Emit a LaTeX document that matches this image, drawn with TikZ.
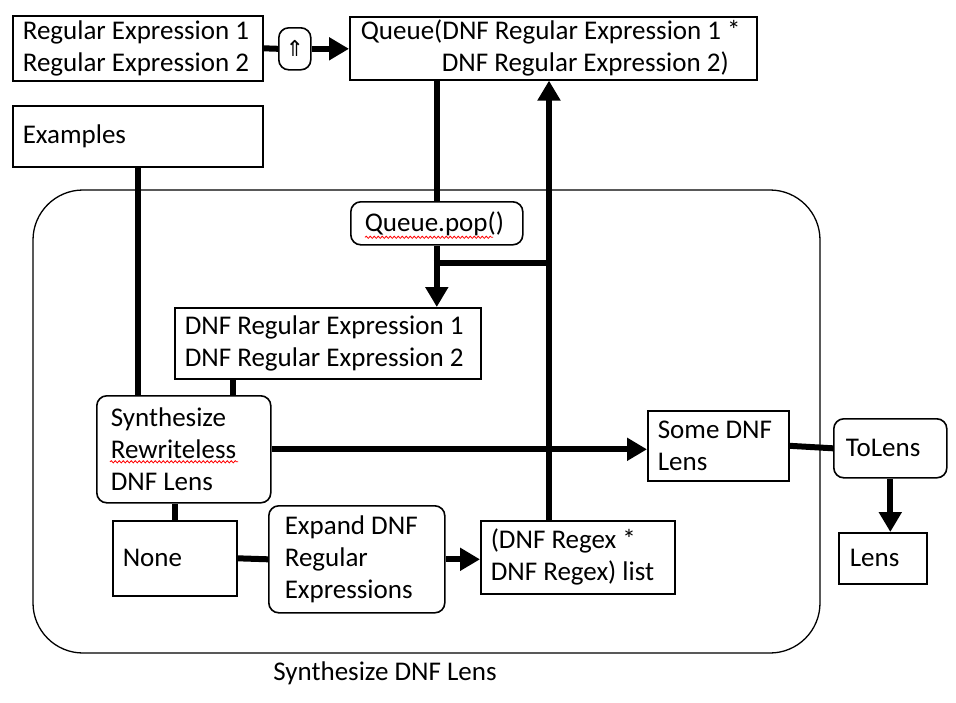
\documentclass[tikz,border=0pt]{standalone}
\usepackage{fontspec}
\setmainfont{Carlito}
\newfontfamily\arrowfont{DejaVu Sans}
\usepackage{tikz}
\usetikzlibrary{arrows.meta}
\usetikzlibrary{decorations.pathmorphing}

\begin{document}
\begin{tikzpicture}[x=1pt,y=-1pt,
  box/.style={draw,line width=1.6pt,anchor=north west,align=flush left,inner xsep=10pt,inner ysep=0pt,font=\fontsize{27}{32}\selectfont},
  rbox/.style={box,rounded corners=10pt},
  wire/.style={line width=6pt},
  flow/.style={wire,-{Triangle[length=20pt,width=22pt]}},
  typo/.style={red,line width=0.8pt,decorate,decoration={snake,amplitude=1.1pt,segment length=4pt}}]

  \useasboundingbox (0,0) rectangle (956,702);

  % outer frame
  \draw[line width=1.3pt,rounded corners=50pt] (33,190) rectangle (820,653);
  \node[font=\fontsize{27}{32}\selectfont] (frame) at (385,673) {Synthesize DNF Lens};

  \node[box,text width=230pt,minimum height=65pt] (regex) at (12,15) {Regular Expression 1\\Regular Expression 2};
  \node[rbox,inner sep=0pt,minimum width=32pt,minimum height=42pt,align=center,font=\arrowfont\fontsize{22}{22}\selectfont] (lift) at (278,27) {⇑};
  \node[box,inner xsep=11pt,text width=385pt,minimum height=63pt] (queue) at (349,16) {Queue(DNF Regular Expression 1 *\\\hspace*{81pt}DNF Regular Expression 2)};
  \node[box,text width=230pt,minimum height=61pt] (examples) at (12,105) {Examples};

  \node[rbox,inner xsep=14pt,text width=144pt,minimum height=43pt] (pop) at (350,201) {Queue.pop()};
  \node[box,text width=286pt,minimum height=71pt] (dnfre) at (174,307) {DNF Regular Expression 1\\DNF Regular Expression 2};
  \node[rbox,inner xsep=14pt,text width=146pt,minimum height=107pt] (synth) at (96,395) {Synthesize\\Rewriteless\\DNF Lens};
  \node[box,text width=121pt,minimum height=70pt] (somelens) at (647,410) {Some DNF\\Lens};
  \node[rbox,inner xsep=12pt,text width=89pt,minimum height=59pt] (tolens) at (833,418) {ToLens};
  \node[box,inner xsep=11pt,text width=66pt,minimum height=51pt] (lens) at (838,532) {Lens};
  \node[box,text width=104pt,minimum height=75pt] (none) at (112,520) {None};
  \node[rbox,inner xsep=16pt,text width=144pt,minimum height=107pt] (expand) at (268,505) {Expand DNF\\Regular\\Expressions};
  \node[box,text width=174pt,minimum height=73pt] (pairs) at (480,520) {(DNF Regex *\\DNF Regex) list};

  % spelling marks
  \draw[typo] ([xshift=15pt,yshift=-14pt]pop.west) -- ([xshift=143pt,yshift=-14pt]pop.west);
  \draw[typo] ([xshift=14pt,yshift=-12.5pt]synth.west) -- ([xshift=142pt,yshift=-12.5pt]synth.west);

  \coordinate (split) at (pop.south |- 0,263);
  \coordinate (back) at (549,520);

  \draw[wire] (regex.east) -- (lift.west);
  \draw[flow] (lift.east) -- (lift.east -| queue.west);
  \draw[wire] (examples.south) -- (examples.south |- synth.north);
  \draw[wire] (pop.north |- queue.south) -- (pop.north);
  \draw[flow] (pop.south) -- (pop.south |- dnfre.north);
  \draw[flow] (back) -- (back |- queue.south);
  \draw[wire] ([xshift=-3pt]split) -- (split -| back);
  \draw[wire] ([xshift=59pt]dnfre.south west) -- ([xshift=59pt]dnfre.south west |- synth.north);
  \draw[flow] (synth.east) -- (synth.east -| somelens.west);
  \draw[wire] (somelens.east) -- (tolens.west);
  \draw[flow] (tolens.south) -- (tolens.south |- lens.north);
  \draw[wire] (none.north |- synth.south) -- (none.north);
  \draw[wire] (none.east) -- (expand.west);
  \draw[flow] (expand.east) -- (expand.east -| pairs.west);

\end{tikzpicture}
\end{document}
